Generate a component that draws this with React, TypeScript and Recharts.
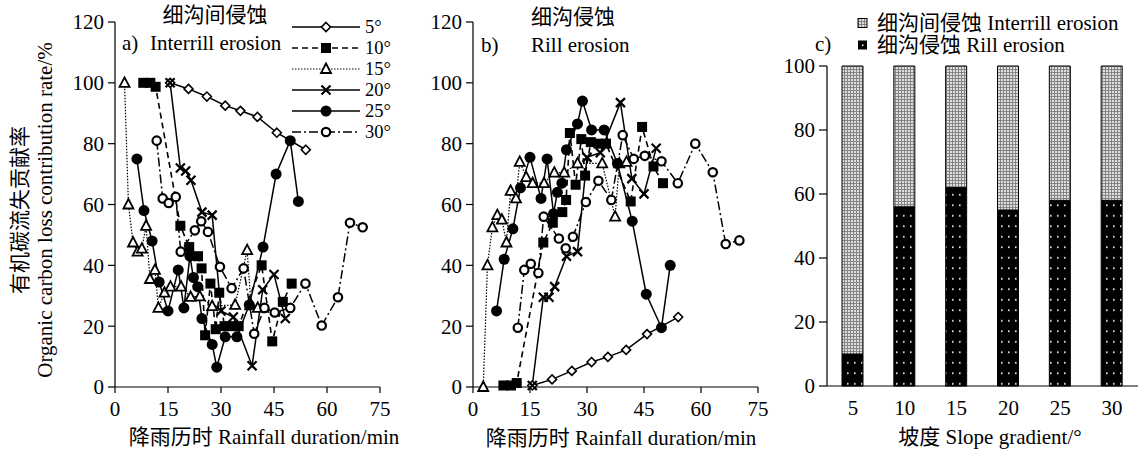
import { LineChart, Line, XAxis, YAxis, BarChart, Bar } from 'recharts'

document.body.style.margin = '0'

const FONT = "'Liberation Serif', 'Times New Roman', 'Noto Sans CJK SC', serif"
const FS = 21

const durationTicks = [0, 15, 30, 45, 60, 75]
const rateTicks = [0, 20, 40, 60, 80, 100, 120]
const shareTicks = [0, 20, 40, 60, 80, 100]
const edgeTicks = [0, 1, 2, 3, 4, 5, 6]

// rainfall duration (min) and contribution rate (%) per slope, read off a) and b)
const t5 = [15.6, 20.8, 26, 31.2, 35.5, 40.3, 45.8, 54]
const interrill5 = [100, 98, 95.5, 92.5, 90.8, 88.8, 83.6, 78]
const rill5 = [0.5, 2.5, 5.3, 8.2, 9.9, 12.2, 17.4, 23]

const t10 = [8, 10, 11.5, 18.5, 21, 23.5, 24.5, 25.5, 27, 28.5, 29.5, 31, 33, 35, 41.5, 44.5, 47.5, 50]
const interrill10 = [100, 100, 98.7, 53, 46, 43, 39, 17, 34, 19, 31, 20, 20, 20, 40, 15, 28, 34]
const rill10 = [0.5, 0.5, 1.3, 47.5, 54, 57.5, 61.5, 83.5, 66.5, 81.5, 69.5, 80.5, 80, 80, 61, 85.5, 72.5, 67]

const t15 = [2.7, 3.8, 5.1, 6.4, 7.6, 8.8, 9.9, 11.3, 12.3, 14, 15.7, 18.7, 21.4, 24, 27.5, 34, 37.4, 38.5, 40.4]
const interrill15 = [100, 60, 47.5, 44.5, 45.5, 53, 35.5, 38.5, 26, 31, 33, 33, 29.6, 29.8, 26.6, 27, 45, 27, 26]
const rill15 = [0, 40, 52.5, 56.5, 55, 47.5, 64.5, 62, 74, 69, 67, 67, 70.5, 70.5, 73.5, 73.5, 56, 73.5, 74]

const t20 = [15.6, 18.5, 20, 21.5, 24.6, 27.5, 30, 33.5, 38.8, 41.8, 45, 48.2]
const interrill20 = [100, 72, 71, 68, 57.5, 56.5, 25, 23, 7, 32, 37, 22.5]
const rill20 = [0.5, 29.5, 29.5, 33, 43, 44.5, 75.5, 77, 93.5, 68.5, 63.5, 78.5]

const t25 = [6.2, 8.2, 10.5, 12.5, 15, 17.9, 19.5, 21.2, 22.2, 23.4, 24.6, 27.5, 28.8, 31.2, 34.5, 38, 41.9, 45.6, 49.6, 51.9]
const interrill25 = [75, 58, 48, 34.5, 25, 38.5, 26, 43, 36, 33, 22.5, 14, 6.5, 16.5, 16.5, 27, 46, 70, 81, 61]
const rill25 = [25, 42, 52, 65.5, 75.5, 62, 75, 57, 64, 67, 78, 86.5, 94, 84.5, 84.5, 73.5, 54.5, 30.5, 19.5, 40]

const t30 = [11.8, 13.5, 15.2, 17.2, 18.6, 22.6, 24.4, 26.3, 29.7, 33, 36.4, 39.4, 42.3, 45.2, 49.6, 53.9, 58.5, 63.1, 66.5, 70.1]
const interrill30 = [81, 62, 60.5, 62.5, 44.5, 51.5, 54.5, 51, 39.5, 32.5, 39, 17.5, 26, 24.5, 26, 34, 20.2, 29.5, 54, 52.5]
const rill30 = [19.5, 38.5, 40.5, 37.5, 56, 48.8, 45.6, 49.4, 60.8, 67.8, 61.5, 82.8, 75, 76, 74.2, 67, 80, 70.6, 47, 48.2]

// c) share of each erosion type per slope (%)
const slopeLabels = ['5', '10', '15', '20', '25', '30']
const rillShare = [10, 56, 62, 55, 58, 58]
const interrillShare = [90, 44, 38, 45, 42, 42]

type MarkerKind = 'diamond' | 'square' | 'triangle' | 'cross' | 'dot' | 'ring'

interface SlopeSeries {
  name: string
  t: number[]
  interrill: number[]
  rill: number[]
  dash?: string
  width: number
  marker: MarkerKind
}

const series: SlopeSeries[] = [
  { name: '5°', t: t5, interrill: interrill5, rill: rill5, width: 1.5, marker: 'diamond' },
  { name: '10°', t: t10, interrill: interrill10, rill: rill10, dash: '6 4', width: 1.6, marker: 'square' },
  { name: '15°', t: t15, interrill: interrill15, rill: rill15, dash: '1.5 1.5', width: 1.2, marker: 'triangle' },
  { name: '20°', t: t20, interrill: interrill20, rill: rill20, width: 1.5, marker: 'cross' },
  { name: '25°', t: t25, interrill: interrill25, rill: rill25, width: 1.5, marker: 'dot' },
  { name: '30°', t: t30, interrill: interrill30, rill: rill30, dash: '9 3 2 3', width: 1.5, marker: 'ring' },
]

function Marker({ kind, cx, cy }: { kind: MarkerKind; cx: number; cy: number }) {
  switch (kind) {
    case 'diamond':
      return <polygon points={`${cx},${cy - 4.5} ${cx + 4.5},${cy} ${cx},${cy + 4.5} ${cx - 4.5},${cy}`} fill="#fff" stroke="#000" strokeWidth={1.6} />
    case 'square':
      return <rect x={cx - 5} y={cy - 5} width={10} height={10} fill="#000" />
    case 'triangle':
      return <polygon points={`${cx},${cy - 5.5} ${cx + 5},${cy + 4} ${cx - 5},${cy + 4}`} fill="#fff" stroke="#000" strokeWidth={1.8} />
    case 'cross':
      return <path d={`M${cx - 4.5},${cy - 4.5}L${cx + 4.5},${cy + 4.5}M${cx - 4.5},${cy + 4.5}L${cx + 4.5},${cy - 4.5}`} stroke="#000" strokeWidth={2.2} />
    case 'dot':
      return <circle cx={cx} cy={cy} r={5.5} fill="#000" />
    case 'ring':
      return <circle cx={cx} cy={cy} r={4.2} fill="#fff" stroke="#000" strokeWidth={2.2} />
  }
}

const tickStyle = { fill: '#000', fontSize: FS, fontFamily: FONT }
const axisStroke = { stroke: '#000', strokeWidth: 1.2 }

function RatePanel({ side, width, marginLeft, marginRight }: {
  side: 'interrill' | 'rill'
  width: number
  marginLeft: number
  marginRight: number
}) {
  return (
    <LineChart width={width} height={452} margin={{ top: 22, right: marginRight, bottom: 35, left: marginLeft }}>
      <XAxis
        type="number"
        dataKey="t"
        domain={[0, 75]}
        ticks={durationTicks}
        interval={0}
        tick={tickStyle}
        tickSize={6}
        tickMargin={8}
        axisLine={axisStroke}
        tickLine={axisStroke}
      />
      <YAxis
        type="number"
        domain={[0, 120]}
        ticks={rateTicks}
        interval={0}
        width={60}
        tick={tickStyle}
        tickSize={7}
        tickMargin={4}
        axisLine={axisStroke}
        tickLine={axisStroke}
      />
      {series.map((s) => (
        <Line
          key={s.name}
          data={s.t.map((t, i) => ({ t, v: s[side][i] }))}
          dataKey="v"
          type="linear"
          stroke="#000"
          strokeWidth={s.width}
          strokeDasharray={s.dash}
          dot={(p: any) => (
            <g key={p.index}>
              <Marker kind={s.marker} cx={p.cx} cy={p.cy} />
            </g>
          )}
          activeDot={false}
          isAnimationActive={false}
        />
      ))}
    </LineChart>
  )
}

function SharePanel() {
  const data = slopeLabels.map((slope, i) => ({
    slope,
    rill: rillShare[i],
    interrill: interrillShare[i],
  }))
  return (
    <BarChart width={379} height={452} data={data} margin={{ top: 66, right: 1, bottom: 36, left: 7 }} barSize={21}>
      <defs>
        <pattern id="rillDots" width="7" height="10.5" patternUnits="userSpaceOnUse">
          <rect width="7" height="10.5" fill="#000" />
          <rect x="3" y="5" width="1.6" height="1.6" fill="#fff" />
        </pattern>
        <pattern id="interrillDots" width="3" height="3" patternUnits="userSpaceOnUse">
          <rect width="3" height="3" fill="#858585" />
          <rect x="1" y="1" width="2" height="2" fill="#dedede" />
        </pattern>
      </defs>
      <XAxis
        xAxisId="edges"
        type="number"
        domain={[0, 6]}
        ticks={edgeTicks}
        interval={0}
        height={0}
        tickFormatter={() => ''}
        axisLine={false}
        tickSize={8}
        tickLine={axisStroke}
      />
      <XAxis
        dataKey="slope"
        interval={0}
        tick={tickStyle}
        tickLine={false}
        tickSize={6}
        tickMargin={8}
        axisLine={axisStroke}
      />
      <YAxis
        domain={[0, 100]}
        ticks={shareTicks}
        interval={0}
        width={60}
        tick={tickStyle}
        tickSize={8}
        tickMargin={4}
        axisLine={axisStroke}
        tickLine={axisStroke}
      />
      <Bar dataKey="rill" stackId="s" fill="url(#rillDots)" stroke="#000" strokeWidth={1} isAnimationActive={false} />
      <Bar dataKey="interrill" stackId="s" fill="url(#interrillDots)" stroke="#000" strokeWidth={1} isAnimationActive={false} />
    </BarChart>
  )
}

function Overlay() {
  const rows = series.map((s, i) => ({ s, y: 27 + 21 * i }))
  return (
    <svg width={1139} height={452} style={{ position: 'absolute', left: 0, top: 0, pointerEvents: 'none' }}
      fontFamily={FONT} fontSize={FS} fill="#000">
      {/* y title, panel a */}
      <text x={20} y={210} transform="rotate(-90 20 210)" textAnchor="middle" dominantBaseline="central">有机碳流失贡献率</text>
      <text x={45} y={210} transform="rotate(-90 45 210)" textAnchor="middle" dominantBaseline="central">Organic carbon loss contribution rate/%</text>

      {/* panel a header */}
      <text x={215} y={15} textAnchor="middle" dominantBaseline="central">细沟间侵蚀</text>
      <text x={122} y={43} dominantBaseline="central">a)</text>
      <text x={150} y={43} dominantBaseline="central">Interrill erosion</text>

      {/* slope legend */}
      {rows.map(({ s, y }) => (
        <g key={s.name}>
          <line x1={292} x2={360} y1={y} y2={y} stroke="#000" strokeWidth={s.width} strokeDasharray={s.dash} />
          <Marker kind={s.marker} cx={326} cy={y} />
          <text x={365} y={y} fontSize={18.5} dominantBaseline="central">{s.name}</text>
        </g>
      ))}

      {/* panel b header */}
      <text x={573} y={17} textAnchor="middle" dominantBaseline="central">细沟侵蚀</text>
      <text x={481} y={45} dominantBaseline="central">b)</text>
      <text x={531} y={45} dominantBaseline="central">Rill erosion</text>

      {/* panel c header + legend */}
      <text x={815} y={44} dominantBaseline="central">c)</text>
      <rect x={858} y={18.5} width={9} height={9} fill="url(#interrillDotsLegend)" stroke="#000" />
      <text x={877} y={23} dominantBaseline="central">细沟间侵蚀 Interrill erosion</text>
      <rect x={858} y={40.5} width={9} height={9} fill="#000" />
      <rect x={862} y={44.5} width={1.5} height={1.5} fill="#fff" />
      <text x={877} y={45} dominantBaseline="central">细沟侵蚀 Rill erosion</text>
      <defs>
        <pattern id="interrillDotsLegend" width="3" height="3" patternUnits="userSpaceOnUse">
          <rect width="3" height="3" fill="#858585" />
          <rect x="1" y="1" width="2" height="2" fill="#dedede" />
        </pattern>
      </defs>

      {/* x titles */}
      <text x={264} y={437} textAnchor="middle" dominantBaseline="central">降雨历时 Rainfall duration/min</text>
      <text x={621} y={438} textAnchor="middle" dominantBaseline="central">降雨历时 Rainfall duration/min</text>
      <text x={990} y={437} textAnchor="middle" dominantBaseline="central">坡度 Slope gradient/°</text>
    </svg>
  )
}

export default function App() {
  return (
    <div style={{ position: 'relative', width: 1139, height: 452, background: '#fff', overflow: 'hidden' }}>
      <div style={{ position: 'absolute', left: 0, top: 0 }}>
        <RatePanel side="interrill" width={400} marginLeft={55} marginRight={20} />
      </div>
      <div style={{ position: 'absolute', left: 400, top: 0 }}>
        <RatePanel side="rill" width={380} marginLeft={13} marginRight={22} />
      </div>
      <div style={{ position: 'absolute', left: 760, top: 0 }}>
        <SharePanel />
      </div>
      <Overlay />
    </div>
  )
}
